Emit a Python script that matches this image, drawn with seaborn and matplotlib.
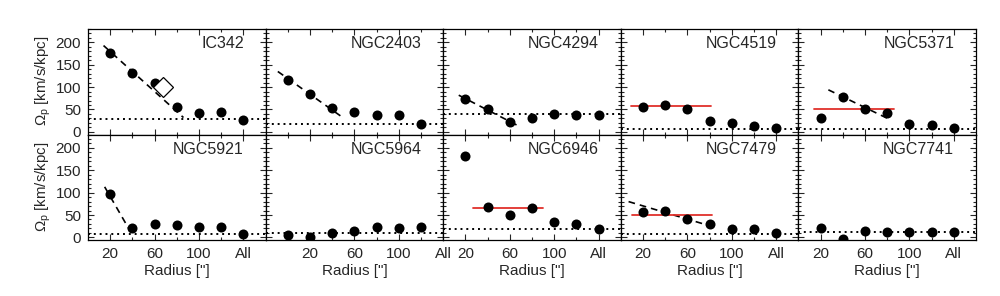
import numpy as np
import pandas as pd
import matplotlib
matplotlib.use("Agg")
import matplotlib.pyplot as plt
from matplotlib.ticker import FixedLocator, MultipleLocator
import seaborn as sns

# ---------------- data ----------------
galaxies = ["IC342", "NGC2403", "NGC4294", "NGC4519", "NGC5371",
            "NGC5921", "NGC5964", "NGC6946", "NGC7479", "NGC7741"]

radius = [20, 40, 60, 80, 100, 120, 140]          # 140 == "All"
radius_shift = [0, 20, 40, 60, 80, 100, 120]      # panels drawn one step left

ic342   = [176, 132, 109, 55, 42, 45, 26]
ngc2403 = [116, 84, 53, 44, 37, 37, 17]
ngc4294 = [73, 51, 23, 32, 39, 38, 37]
ngc4519 = [55, 60, 51, 24, 20, 13, 8]
ngc5371 = [32, 77, 52, 43, 17, 15, 8]
ngc5921 = [97, 21, 29, 28, 24, 24, 8]
ngc5964 = [6, 1, 9, 15, 23, 20, 23]
ngc6946 = [181, 69, 50, 66, 35, 31, 19]
ngc7479 = [57, 58, 41, 29, 19, 18, 9]
ngc7741 = [20, -4, 14, 12, 12, 12, 12]

series = [ic342, ngc2403, ngc4294, ngc4519, ngc5371,
          ngc5921, ngc5964, ngc6946, ngc7479, ngc7741]
shifted = ["NGC2403", "NGC5964"]

# dotted reference level per galaxy
dotted_level = [28, 18, 39, 7, 6, 8, 9, 19, 8, 11.5]

# dashed fits: galaxy -> (x0, x1, y0, y1)
dashed_gal = ["IC342", "NGC2403", "NGC4294", "NGC5371", "NGC5921", "NGC7479"]
dashed_x0 = [14, -9, 14, 27, 15, 7]
dashed_x1 = [86, 49, 68, 82, 38, 80]
dashed_y0 = [193, 135, 82, 94, 113, 80]
dashed_y1 = [32, 33, 13, 28, 14, 26]

# red mean segments
red_gal = ["NGC4519", "NGC5371", "NGC6946", "NGC7479"]
red_x0 = [9, 14, 27, 10]
red_x1 = [81, 86, 90, 82]
red_y = [57, 51, 65, 50]

# open diamond in IC342
diamond_x = [68]
diamond_y = [101]

tick_pos = [20, 60, 100, 140]
tick_lab = ["20", "60", "100", "All"]

# ---------------- table ----------------
rows = []
for g, vals in zip(galaxies, series):
    xs = radius_shift if g in shifted else radius
    for x, v in zip(xs, vals):
        rows.append({"galaxy": g, "radius": x, "omega": v})
df = pd.DataFrame(rows)

# ---------------- plot ----------------
sns.set_style("ticks")
plt.rcParams["font.family"] = ["Liberation Sans", "DejaVu Sans"]
plt.rcParams["font.size"] = 10.5
plt.rcParams["mathtext.fontset"] = "custom"
plt.rcParams["mathtext.rm"] = "Liberation Sans"
plt.rcParams["mathtext.it"] = "Liberation Sans"

fig, axes = plt.subplots(2, 5, figsize=(10, 2.96), dpi=100, sharey=True)
fig.subplots_adjust(left=0.088, right=0.976, top=0.902, bottom=0.189,
                    wspace=0, hspace=0)

for i, g in enumerate(galaxies):
    ax = axes.flat[i]
    sub = df[df["galaxy"] == g]
    sns.scatterplot(data=sub, x="radius", y="omega", ax=ax, color="black",
                    s=52, edgecolor="black", linewidth=0, legend=False, zorder=4)
    ax.axhline(dotted_level[i], color="black", lw=1.4,
               linestyle=(0, (1, 2.0)), zorder=2)
    if g in dashed_gal:
        j = dashed_gal.index(g)
        ax.plot([dashed_x0[j], dashed_x1[j]], [dashed_y0[j], dashed_y1[j]],
                color="black", lw=1.2, linestyle=(0, (4, 3)), zorder=3)
    if g in red_gal:
        j = red_gal.index(g)
        ax.plot([red_x0[j], red_x1[j]], [red_y[j], red_y[j]],
                color="#e0302b", lw=1.3, zorder=3)
    if g == "IC342":
        ax.plot(diamond_x, diamond_y, marker="D", ms=10, mfc="white",
                mec="black", mew=0.9, ls="none", zorder=5)

    if g in shifted:
        ax.set_xlim(-20, 140)
        ax.xaxis.set_minor_locator(FixedLocator([0, 40, 80, 120]))
    else:
        ax.set_xlim(0, 160)
        ax.xaxis.set_minor_locator(FixedLocator([40, 80, 120]))
    ax.xaxis.set_major_locator(FixedLocator(tick_pos))
    ax.set_xticklabels(tick_lab)
    ax.set_ylim(-6, 230)
    ax.yaxis.set_major_locator(FixedLocator([0, 50, 100, 150, 200]))
    ax.yaxis.set_minor_locator(MultipleLocator(10))

    ax.tick_params(which="both", direction="in", top=True, right=True,
                   width=0.8, labelsize=11, pad=5)
    ax.tick_params(which="major", length=4)
    ax.tick_params(which="minor", length=2.5)
    for sp in ax.spines.values():
        sp.set_linewidth(0.9)
        sp.set_color("black")

    ax.text(0.877, 0.862, g, transform=ax.transAxes, ha="right",
            va="center", fontsize=11.5)
    ax.set_xlabel("")
    ax.set_ylabel("")
    if i < 5:
        ax.tick_params(labelbottom=False)
    else:
        ax.set_xlabel('Radius ["]', fontsize=11, labelpad=2)
    if i % 5 != 0:
        ax.tick_params(labelleft=False)

for r, yc in enumerate([0.727, 0.370]):
    fig.text(0.043, yc, r"$\Omega_{\rm p}$ [km/s/kpc]", rotation=90,
             ha="center", va="center", fontsize=10.8)

fig.savefig("out.png", dpi=100, facecolor="white")
